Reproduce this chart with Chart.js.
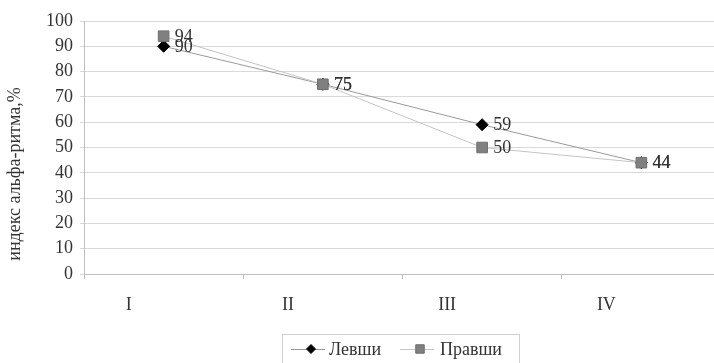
<!DOCTYPE html>
<html>
<head>
<meta charset="utf-8">
<script src="https://cdn.jsdelivr.net/npm/chart.js@4/dist/chart.umd.min.js"></script>
<style>
  html, body { margin: 0; padding: 0; background: #fff; overflow: hidden; }
  #wrap { width: 714px; height: 363px; overflow: hidden; position: relative; }
  canvas { position: absolute; left: 0; top: 0; }
</style>
</head>
<body>
<div id="wrap"><canvas id="c" width="800" height="363"></canvas></div>
<script>
// Stages on the x axis
const categories = ['I', 'II', 'III', 'IV'];
// Alpha-rhythm index, %
const leftHanded = [90, 75, 59, 44];   // Левши
const rightHanded = [94, 75, 50, 44];  // Правши
const seriesNames = ['Левши', 'Правши'];
const yAxisTitle = 'индекс альфа-ритма,%';
const yMin = 0, yMax = 100, yStep = 10;

const SERIF = '"Liberation Serif", "Times New Roman", serif';
const TEXT = '#333333';
const FONT_SIZE = 18;

// Rotated y-axis caption
const yTitlePlugin = {
  id: 'yTitle',
  afterDraw(chart) {
    const ctx = chart.ctx;
    ctx.save();
    ctx.translate(15, 174);
    ctx.rotate(-Math.PI / 2);
    ctx.font = FONT_SIZE + 'px ' + SERIF;
    ctx.fillStyle = TEXT;
    ctx.textAlign = 'center';
    ctx.textBaseline = 'middle';
    ctx.fillText(yAxisTitle, 0, 0);
    ctx.restore();
  }
};

// Value labels to the right of each marker
const valueLabelPlugin = {
  id: 'valueLabels',
  afterDatasetsDraw(chart) {
    const ctx = chart.ctx;
    ctx.save();
    ctx.font = FONT_SIZE + 'px ' + SERIF;
    ctx.fillStyle = TEXT;
    ctx.textAlign = 'left';
    ctx.textBaseline = 'middle';
    chart.data.datasets.forEach((ds, i) => {
      const meta = chart.getDatasetMeta(i);
      meta.data.forEach((pt, j) => {
        ctx.fillText(String(ds.data[j]), pt.x + 11, pt.y + 1);
      });
    });
    ctx.restore();
  }
};

// Framed legend with line + marker samples
const legendPlugin = {
  id: 'framedLegend',
  afterDraw(chart) {
    const ctx = chart.ctx;
    const box = { x: 282.5, y: 334.5, w: 237, h: 40 };
    const cy = 349;
    ctx.save();
    ctx.strokeStyle = '#d0d0d0';
    ctx.lineWidth = 1;
    ctx.strokeRect(box.x, box.y, box.w, box.h);
    ctx.font = FONT_SIZE + 'px ' + SERIF;
    ctx.textAlign = 'left';
    ctx.textBaseline = 'middle';
    const items = [
      { lx: 291, mx: 311, tx: 329, ds: chart.data.datasets[0] },
      { lx: 400, mx: 420, tx: 440, ds: chart.data.datasets[1] }
    ];
    items.forEach(it => {
      ctx.strokeStyle = it.ds.borderColor;
      ctx.lineWidth = 1;
      ctx.beginPath();
      ctx.moveTo(it.lx, cy + 0.5);
      ctx.lineTo(it.lx + 34, cy + 0.5);
      ctx.stroke();
      ctx.fillStyle = it.ds.pointBackgroundColor;
      ctx.strokeStyle = it.ds.pointBorderColor;
      Chart.helpers.drawPoint(ctx, {
        pointStyle: it.ds.pointStyle,
        radius: it.ds.pointRadius - 1.5,
        rotation: 0,
        borderWidth: 1
      }, it.mx, cy);
      ctx.fillStyle = TEXT;
      ctx.fillText(it.ds.label, it.tx, cy + 1);
    });
    ctx.restore();
  }
};

new Chart(document.getElementById('c'), {
  type: 'line',
  data: {
    labels: categories,
    datasets: [
      {
        label: seriesNames[0],
        data: leftHanded,
        order: 1,
        borderColor: '#9a9a9a',
        borderWidth: 1,
        pointStyle: 'rectRot',
        pointRadius: 6,
        pointBackgroundColor: '#000000',
        pointBorderColor: '#000000',
        pointBorderWidth: 1,
        tension: 0,
        fill: false
      },
      {
        label: seriesNames[1],
        data: rightHanded,
        order: 0,
        borderColor: '#c4c4c4',
        borderWidth: 1,
        pointStyle: 'rect',
        pointRadius: 7.5,
        pointBackgroundColor: '#808080',
        pointBorderColor: '#6e6e6e',
        pointBorderWidth: 1,
        tension: 0,
        fill: false
      }
    ]
  },
  options: {
    responsive: false,
    animation: false,
    events: [],
    layout: { padding: { top: 21, right: 79, left: 0, bottom: 0 } },
    plugins: {
      legend: { display: false },
      tooltip: { enabled: false }
    },
    scales: {
      x: {
        type: 'category',
        offset: true,
        grid: {
          offset: true,
          drawOnChartArea: false,
          drawTicks: true,
          tickLength: 5,
          color: '#bfbfbf'
        },
        border: { color: '#bfbfbf' },
        ticks: {
          labelOffset: -35,
          padding: 15,
          maxRotation: 0,
          autoSkip: false,
          font: { family: SERIF, size: FONT_SIZE },
          color: TEXT
        },
        afterFit(scale) { scale.height = 89; }
      },
      y: {
        min: yMin,
        max: yMax,
        ticks: {
          stepSize: yStep,
          padding: 7,
          font: { family: SERIF, size: FONT_SIZE },
          color: TEXT
        },
        grid: {
          color: '#d9d9d9',
          tickLength: 4,
          lineWidth: 1
        },
        border: { color: '#bfbfbf' },
        afterFit(scale) { scale.width = 84; }
      }
    }
  },
  plugins: [yTitlePlugin, valueLabelPlugin, legendPlugin]
});
</script>
</body>
</html>
